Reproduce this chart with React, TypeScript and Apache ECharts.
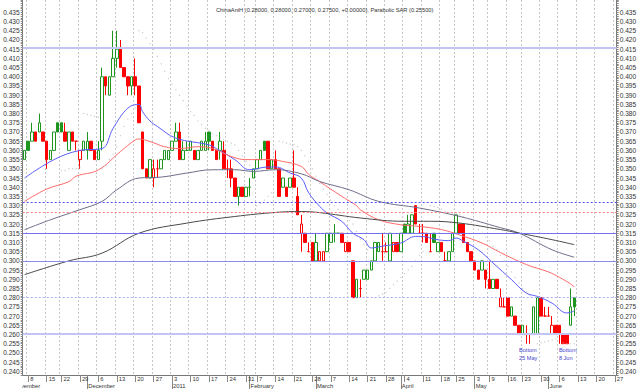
import React, { useEffect, useRef } from 'react';
import * as echarts from 'echarts';

const FONT = '"Liberation Sans", Arial, sans-serif';
const TITLE = 'ChinaAniH (0.28000, 0.28000, 0.27000, 0.27500, +0.00000), Parabolic SAR (0.25500)';

// SGX trading calendar of the shown period
const FIRST_DAY = '2010-11-04';
const LAST_DAY = '2011-06-27';
const HOLIDAYS = ['2010-11-05', '2010-11-17', '2011-02-03', '2011-02-04', '2011-04-22', '2011-05-02', '2011-05-17'];
const MONTHS = ['January', 'February', 'March', 'April', 'May', 'June', 'July', 'August', 'September', 'October', 'November', 'December'];

// [open, close, low, high] per trading day from 4 Nov 2010 to 10 Jun 2011
const ohlc: number[][] = [
  [.355,.360,.355,.360],[.365,.360,.360,.365],[.365,.370,.365,.375],[.370,.365,.365,.370],[.370,.375,.370,.380],
  [.370,.365,.365,.370],[.365,.355,.350,.365],[.355,.360,.355,.360],[.360,.370,.360,.370],[.375,.370,.370,.375],
  [.375,.370,.370,.375],[.370,.365,.365,.375],[.360,.370,.360,.370],[.370,.365,.365,.370],[.365,.365,.360,.365],
  [.355,.360,.350,.360],[.360,.365,.360,.365],[.360,.365,.355,.370],[.365,.360,.360,.365],[.360,.355,.355,.360],
  [.355,.360,.355,.365],[.365,.400,.360,.405],[.400,.395,.390,.400],[.390,.400,.390,.400],[.400,.410,.400,.425],
  [.410,.415,.405,.425],[.415,.405,.405,.420],[.405,.400,.400,.405],[.400,.395,.390,.400],[.395,.400,.390,.400],
  [.400,.395,.390,.410],[.395,.375,.375,.395],[.370,.350,.350,.370],[.350,.345,.345,.350],[.345,.355,.345,.355],
  [.345,.350,.340,.355],[.350,.350,.345,.355],[.350,.355,.350,.355],[.355,.360,.355,.360],[.355,.360,.355,.360],
  [.360,.365,.360,.365],[.365,.370,.365,.375],[.370,.355,.355,.375],[.355,.360,.355,.365],[.360,.360,.360,.365],
  [.360,.365,.360,.365],[.360,.355,.355,.360],[.355,.360,.355,.360],[.360,.365,.360,.365],[.360,.365,.360,.370],
  [.370,.365,.360,.370],[.365,.360,.360,.365],[.360,.355,.355,.360],[.360,.365,.355,.370],[.360,.350,.350,.365],
  [.350,.350,.345,.355],[.350,.345,.340,.355],[.345,.335,.335,.345],[.335,.340,.330,.340],[.340,.335,.335,.340],
  [.335,.340,.335,.340],[.340,.340,.335,.345],[.345,.350,.345,.350],[.350,.355,.350,.355],[.355,.360,.355,.360],
  [.365,.360,.360,.365],[.365,.350,.350,.365],[.350,.355,.350,.355],[.355,.350,.350,.360],[.350,.335,.335,.350],
  [.340,.345,.340,.345],[.340,.335,.335,.340],[.340,.345,.340,.345],[.345,.340,.340,.360],[.335,.325,.325,.340],
  [.315,.320,.305,.325],[.315,.310,.310,.315],[.305,.305,.305,.310],[.310,.300,.300,.310],[.300,.310,.300,.315],
  [.300,.305,.300,.305],[.300,.305,.300,.305],[.305,.315,.305,.315],[.310,.315,.310,.315],[.315,.315,.310,.320],
  [.315,.315,.315,.315],[.315,.310,.310,.315],[.305,.310,.305,.310],[.310,.305,.305,.310],[.300,.280,.280,.300],
  [.280,.290,.280,.290],[.285,.285,.280,.290],[.290,.295,.290,.295],[.290,.295,.290,.295],[.295,.300,.295,.300],
  [.300,.310,.300,.310],[.305,.310,.305,.310],[.305,.305,.300,.315],[.305,.305,.305,.310],[.300,.315,.300,.315],
  [.305,.310,.305,.310],[.310,.305,.305,.310],[.305,.315,.305,.315],[.320,.315,.315,.320],[.315,.320,.315,.325],
  [.315,.325,.315,.325],[.330,.320,.320,.330],[.315,.315,.315,.320],[.315,.315,.310,.320],[.315,.310,.310,.315],
  [.305,.305,.305,.315],[.315,.310,.310,.315],[.305,.310,.305,.310],[.310,.305,.305,.310],[.300,.300,.300,.305],
  [.300,.305,.300,.305],[.305,.315,.305,.315],[.315,.325,.315,.325],[.320,.315,.315,.320],[.320,.310,.310,.320],
  [.310,.305,.305,.310],[.305,.300,.300,.305],[.300,.295,.295,.300],[.295,.290,.290,.295],[.295,.300,.295,.300],
  [.295,.290,.285,.295],[.290,.285,.285,.300],[.285,.290,.285,.290],[.290,.285,.285,.290],[.275,.280,.275,.285],
  [.275,.275,.275,.280],[.280,.270,.270,.280],[.270,.275,.270,.275],[.270,.265,.265,.270],[.265,.260,.260,.265],
  [.260,.265,.260,.265],[.260,.260,.255,.265],[.260,.260,.255,.260],[.260,.275,.260,.275],[.260,.280,.260,.280],
  [.280,.270,.270,.280],[.270,.270,.270,.275],[.270,.270,.270,.275],[.260,.265,.260,.270],[.265,.260,.260,.265],
  [.265,.260,.255,.265],[.260,.255,.255,.260],[.260,.255,.255,.260],[.265,.275,.265,.285],[.280,.275,.270,.280],
];

// moving averages, [day index, value]
const maBlue: number[][] = [
  [-0.5,.345],[7.7,.355],[15,.360],[20.5,.361],[23.7,.372],[28,.383],[30.5,.385],[32,.381],[34,.376],[36,.373],
  [41.3,.3667],[49.5,.363],[52.2,.361],[56.5,.355],[61.1,.3495],[65.7,.351],[68.4,.351],[72,.3477],[74.7,.345],
  [77.4,.337],[80.1,.3296],[82,.326],[85.5,.3214],[89,.315],[91.8,.3115],[94.2,.307],[97.2,.308],[101.8,.3097],
  [106.4,.3133],[108.6,.313],[110.7,.3118],[114.5,.311],[117.2,.3124],[119.4,.3106],[122.7,.306],[127,.2988],
  [131.6,.2898],[136.2,.2825],[139.2,.2807],[143.3,.277],[147.3,.2717],[149,.2728],
];
const maRed: number[][] = [
  [-0.5,.3323],[6.1,.339],[11.5,.343],[14.2,.346],[19.7,.3494],[25.9,.3594],[30,.3657],[31.3,.3662],[34,.3648],
  [37.5,.362],[42.2,.361],[46.8,.362],[51.1,.361],[55.7,.3567],[59.8,.355],[65.7,.355],[70.1,.354],[74.7,.3513],
  [76.6,.347],[80.1,.343],[85.5,.335],[89.6,.330],[91,.3278],[96.4,.3223],[101.8,.3196],[107.2,.3187],[112.6,.317],
  [118.1,.314],[123.5,.3097],[129,.3045],[136.2,.298],[141.6,.294],[145,.291],[147.7,.2875],[149,.2858],
];
const maPurple: number[][] = [
  [-0.5,.3169],[6.9,.3223],[15,.3278],[20.5,.3323],[25.1,.3386],[30.5,.345],[36.7,.3455],[44,.3477],[51.1,.3495],
  [56.5,.3495],[62,.3486],[68.4,.3495],[74.7,.3473],[80.1,.3431],[88.2,.3386],[96.4,.3323],[107.2,.3287],
  [118.1,.3241],[129,.318],[134.3,.3151],[143.3,.306],[148.7,.302],
];
const maBlack: number[][] = [
  [-0.5,.2925],[11.5,.300],[20.5,.3042],[30.5,.315],[44,.3205],[56.5,.3241],[68.4,.3263],[74.7,.3268],[80.1,.3262],
  [91,.3233],[102.6,.3215],[110,.3215],[118.1,.3205],[129,.317],[134.3,.3151],[143.3,.3115],[148.7,.3088],
];

// parabolic SAR dots, [day index, value]
const sar: number[][] = [
  [10,.349],[11,.349],[12,.350],[13,.350],[14,.350],[15,.351],
  [16,.380],[17,.3795],[18,.379],[19,.3785],[20,.378],
  [21,.350],[22,.352],[23,.355],[24,.358],[25,.362],[26,.368],[27,.373],[28,.377],[29,.380],[30,.383],
  [31,.425],[32,.424],[33,.421],[34,.418],[35,.415],[36,.411],[37,.407],[38,.403],[39,.399],[40,.396],[41,.393],
  [42,.390],[43,.387],[44,.384],[45,.381],[46,.379],[47,.376],[48,.374],[49,.372],[50,.371],[51,.369],[52,.368],
  [53,.367],[54,.366],[55,.365],[56,.364],[57,.363],[58,.360],[59,.357],[60,.354],[61,.352],
  [63,.330],[64,.331],[65,.333],[66,.335],[67,.337],
  [69,.365],[70,.3645],[71,.364],[72,.3635],[73,.363],[74,.362],[75,.360],[76,.357],[77,.354],[78,.350],[79,.346],
  [80,.342],[81,.339],[82,.336],[83,.333],[84,.330],[85,.328],[86,.326],[87,.324],[88,.322],[89,.320],[90,.316],
  [91,.312],[92,.309],[93,.306],
  [95,.280],[96,.281],[97,.282],[98,.283],[99,.285],[100,.287],[101,.289],[102,.291],[103,.293],[104,.295],
  [105,.297],[106,.300],[107,.303],[108,.305],
  [110,.330],[111,.3295],[112,.329],[113,.328],[114,.327],[115,.326],[116,.3255],[117,.3255],[118,.325],[119,.324],
  [120,.323],[121,.321],[122,.319],[123,.317],[124,.315],[125,.313],[126,.311],[127,.308],[128,.306],[129,.303],
  [130,.300],[131,.297],[132,.294],[133,.291],[134,.288],[135,.285],[136,.283],[137,.281],
  [139,.255],[140,.2555],[141,.256],[142,.2565],[143,.257],[144,.2575],[146,.2555],[147,.255],[148,.255],[149,.255],
];

// horizontal levels
const levels: { v: number; color: string; width: number; type: any }[] = [
  { v: 0.4155, color: '#c4c4f4', width: 2, type: 'solid' },
  { v: 0.332, color: '#4d4dff', width: 1, type: [2, 2] },
  { v: 0.3265, color: '#ff7a7a', width: 1, type: [2, 2] },
  { v: 0.315, color: '#7272f0', width: 1, type: 'solid' },
  { v: 0.300, color: '#8c8cf0', width: 1, type: 'solid' },
  { v: 0.280, color: '#a8a8ff', width: 1, type: [2, 2] },
  { v: 0.2605, color: '#c4c4f4', width: 2, type: 'solid' },
];

const notes = [
  { date: '2011-05-25', value: 0.2493, text: 'Bottom\n25 May', dx: -11 },
  { date: '2011-06-08', value: 0.2493, text: 'Bottom\n8 Jun', dx: -8 },
];

function buildDates(): string[] {
  const out: string[] = [];
  const d = new Date(FIRST_DAY + 'T00:00:00Z');
  const end = new Date(LAST_DAY + 'T00:00:00Z');
  while (d <= end) {
    const s = d.toISOString().slice(0, 10);
    const dow = d.getUTCDay();
    if (dow !== 0 && dow !== 6 && HOLIDAYS.indexOf(s) < 0) out.push(s);
    d.setUTCDate(d.getUTCDate() + 1);
  }
  return out;
}

export default function App() {
  const ref = useRef<HTMLDivElement>(null);
  useEffect(() => {
    if (!ref.current) return;
    const chart = echarts.init(ref.current, undefined, { renderer: 'svg' });
    const dates = buildDates();
    const mondayKey = (s: string) => {
      const d = new Date(s + 'T00:00:00Z');
      const dow = d.getUTCDay();
      d.setUTCDate(d.getUTCDate() - (dow - 1));
      return d.toISOString().slice(0, 10);
    };
    const weekStart = dates.map((s, i) => i > 0 && mondayKey(s) !== mondayKey(dates[i - 1]));
    const monthStart = dates.map((s, i) => i > 0 && s.slice(5, 7) !== dates[i - 1].slice(5, 7));

    const RED = '#ff0000';
    const GREEN = '#1e951e';
    let lastUp = true;
    const candles = ohlc.map((d, i) => {
      const [o, c] = d;
      const prev = i > 0 ? ohlc[i - 1][1] : c;
      const up = c > prev ? true : c < prev ? false : lastUp;
      lastUp = up;
      const col = up ? GREEN : RED;
      const fill = c < o ? col : '#ffffff';
      return {
        value: d,
        itemStyle: { color: fill, color0: fill, borderColor: col, borderColor0: col, borderColorDoji: col, borderWidth: 1 },
      };
    });

    const yCommon = {
      type: 'value',
      min: 0.238,
      max: 0.4417,
      interval: 0.001,
      splitLine: { show: false },
      axisLine: { show: true, lineStyle: { color: '#777' } },
      axisTick: { show: true, length: 2, lineStyle: { color: '#888' } },
      axisLabel: {
        fontSize: 6.6,
        fontFamily: FONT,
        color: '#333',
        margin: 3,
        formatter: (v: number) => {
          const m = Math.round(v * 1000);
          return m % 5 === 0 && m <= 435 ? (m / 1000).toFixed(3) : '';
        },
      },
    };

    const option: any = {
      animation: false,
      backgroundColor: '#ffffff',
      title: {
        text: TITLE,
        left: 211,
        top: 2,
        textStyle: { fontSize: 5.7, fontWeight: 'normal', color: '#333', fontFamily: FONT },
      },
      grid: { left: 22.7, right: 23.3, top: 0, bottom: 14, containLabel: false },
      xAxis: [
        {
          type: 'category',
          data: dates,
          boundaryGap: true,
          position: 'bottom',
          axisLine: { show: true, lineStyle: { color: '#777' } },
          axisTick: { show: true, alignWithLabel: true, length: 7, interval: (i: number) => weekStart[i], lineStyle: { color: '#888' } },
          axisLabel: {
            interval: (i: number) => weekStart[i],
            formatter: (v: string) => String(Number(v.slice(8, 10))),
            align: 'left',
            padding: [0, 0, 0, 2],
            margin: 1,
            fontSize: 5.8,
            fontFamily: FONT,
            color: '#333',
          },
          splitLine: { show: true, interval: (i: number) => weekStart[i], lineStyle: { type: [2, 2], color: '#c8c8c8', width: 1 } },
        },
        {
          type: 'category',
          data: dates,
          boundaryGap: true,
          position: 'bottom',
          axisLine: { show: false },
          axisTick: { show: true, alignWithLabel: true, length: 14, interval: (i: number) => monthStart[i], lineStyle: { color: '#888' } },
          axisLabel: {
            interval: (i: number) => monthStart[i],
            formatter: (v: string) => {
              const m = Number(v.slice(5, 7)) - 1;
              return m === 0 ? v.slice(0, 4) : MONTHS[m];
            },
            align: 'left',
            padding: [0, 0, 0, 1],
            margin: 8,
            fontSize: 5.8,
            fontFamily: FONT,
            color: '#333',
          },
          splitLine: { show: false },
        },
      ],
      yAxis: [
        { ...yCommon, position: 'left' },
        { ...yCommon, position: 'right' },
      ],
      graphic: [
        {
          type: 'text',
          x: 13.5,
          y: 383,
          z: 10,
          style: { text: 'November', fontSize: 5.8, fontFamily: FONT, fill: '#333', verticalAlign: 'top' },
        },
        { type: 'rect', z: 20, shape: { x: 0, y: 381, width: 22.4, height: 8 }, style: { fill: '#ffffff' } },
      ],
      series: [
        {
          type: 'candlestick',
          xAxisIndex: 0,
          yAxisIndex: 0,
          barWidth: 3,
          data: candles,
          z: 3,
          markLine: {
            silent: true,
            precision: 4,
            symbol: ['none', 'none'],
            label: { show: false },
            data: levels.map((l) => ({ yAxis: l.v, lineStyle: { color: l.color, width: l.width, type: l.type } })),
          },
          markPoint: {
            silent: true,
            symbol: 'circle',
            symbolSize: 0,
            data: notes.map((n) => ({
              coord: [n.date, n.value],
              label: {
                show: true,
                position: 'inside',
                align: 'left',
                offset: [n.dx, 0],
                formatter: n.text,
                fontSize: 5.6,
                lineHeight: 7.5,
                fontFamily: FONT,
                color: '#4444cc',
              },
            })),
          },
        },
        {
          type: 'line', data: maBlue, showSymbol: false, smooth: 0.4, z: 4,
          lineStyle: { color: '#5c5cff', width: 1 },
        },
        {
          type: 'line', data: maRed, showSymbol: false, smooth: 0.4, z: 4,
          lineStyle: { color: '#ff6a6a', width: 1 },
        },
        {
          type: 'line', data: maPurple, showSymbol: false, smooth: 0.4, z: 4,
          lineStyle: { color: '#6e6e8c', width: 1 },
        },
        {
          type: 'line', data: maBlack, showSymbol: false, smooth: 0.4, z: 4,
          lineStyle: { color: '#4a4a4a', width: 1 },
        },
        {
          type: 'scatter', data: sar, symbol: 'circle', symbolSize: 1.2, z: 5,
          itemStyle: { color: '#b4b4b4' },
        },
      ],
    };
    chart.setOption(option);
    return () => chart.dispose();
  }, []);
  return <div ref={ref} style={{ position: 'fixed', left: 0, top: 0, width: 640, height: 389 }} />;
}
